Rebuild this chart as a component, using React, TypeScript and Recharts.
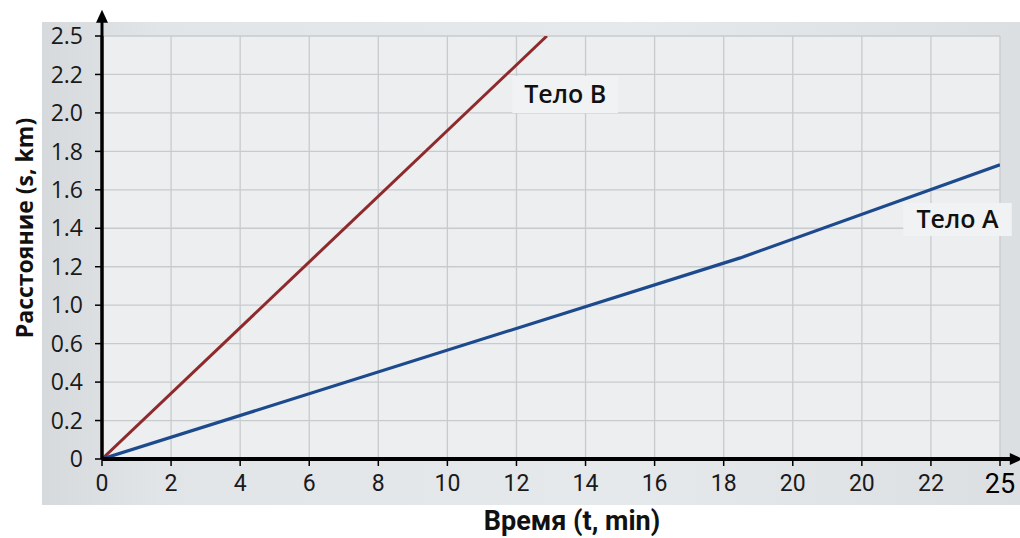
import { CartesianGrid, Line, LineChart, ReferenceArea, ReferenceDot, ReferenceLine, XAxis, YAxis } from "recharts";

// The printed axes are evenly spaced but their labels are not (0.8 is missing
// on the y axis, 20 shows up twice on the x axis), so everything is placed in
// grid steps and the labels are only looked up for display.
const X_LABELS = ["0", "2", "4", "6", "8", "10", "12", "14", "16", "18", "20", "20", "22", "25"];
const Y_LABELS = ["0", "0.2", "0.4", "0.6", "1.0", "1.2", "1.4", "1.6", "1.8", "2.0", "2.2", "2.5"];

// Тело A: slight bend past the "18" column, as in the picture
const BODY_A_STEP = [0, 9.24, 13];
const BODY_A_LEVEL = [0, 5.23, 7.65];
// Тело B: runs out through the top edge just past "12"
const BODY_B_STEP = [0, 6.44];
const BODY_B_LEVEL = [0, 11];

const bodyA = BODY_A_STEP.map((x, i) => ({ x, y: BODY_A_LEVEL[i] }));
const bodyB = BODY_B_STEP.map((x, i) => ({ x, y: BODY_B_LEVEL[i] }));

const X_TICKS = X_LABELS.map((_, i) => i);
const Y_TICKS = Y_LABELS.map((_, i) => i);

const X_MAX = X_LABELS.length - 1;
const Y_MAX = Y_LABELS.length - 1;

const TICK_FONT = { fill: "#1a1a1a", fontSize: 23, fontFamily: "Open Sans, sans-serif" };
const CONDENSED = "Roboto, sans-serif";
const TAG_STYLE = { fill: "#111", fontSize: 25, fontWeight: 600, fontFamily: "Open Sans, sans-serif" };

// the last x label ("25") is printed bigger and darker than the rest
function XTick(props: { x?: number; y?: number; payload?: { value: number } }) {
  const { x = 0, y = 0, payload } = props;
  const i = payload ? payload.value : 0;
  const last = i === X_MAX;
  return (
    <text
      x={x}
      y={y}
      dy={last ? 19 : 17}
      textAnchor="middle"
      fill={last ? "#000" : "#1a1a1a"}
      fontSize={last ? 27 : 23}
      fontFamily={CONDENSED}
    >
      {X_LABELS[i]}
    </text>
  );
}

function UpArrow(props: { cx?: number; cy?: number }) {
  const { cx = 0, cy = 0 } = props;
  return <path d={`M${cx},${cy} l-6,13 l12,0 z`} fill="#000" />;
}

function RightArrow(props: { cx?: number; cy?: number }) {
  const { cx = 0, cy = 0 } = props;
  return <path d={`M${cx},${cy} l-13,-6 l0,12 z`} fill="#000" />;
}

export default function App() {
  return (
    <div style={{ position: "absolute", left: 0, top: 0, width: 1020, height: 538, background: "#fff", overflow: "hidden" }}>
      <div
        style={{
          position: "absolute",
          left: 42,
          top: 22,
          width: 978,
          height: 483,
          background: "linear-gradient(to right, #d6dadd 0%, #e2e5e8 12%, #e6e9eb 60%, #dcdfe2 100%)",
        }}
      />
      <div style={{ position: "absolute", left: 0, top: 0 }}>
        <LineChart width={1020} height={538} margin={{ top: 36, right: 20, bottom: 0, left: 0 }}>
          <CartesianGrid stroke="#c8cbce" strokeWidth={1.3} fill="#eceef0" />
          <XAxis
            dataKey="x"
            type="number"
            domain={[0, X_MAX]}
            ticks={X_TICKS}
            interval={0}
            height={79}
            axisLine={{ stroke: "#000", strokeWidth: 4 }}
            tickLine={{ stroke: "#000", strokeWidth: 1.5 }}
            tickSize={7}
            tickMargin={8}
            tick={<XTick />}
            allowDataOverflow
          />
          <YAxis
            type="number"
            domain={[0, Y_MAX]}
            ticks={Y_TICKS}
            interval={0}
            tickFormatter={(i: number) => Y_LABELS[i]}
            width={102}
            axisLine={{ stroke: "#000", strokeWidth: 3 }}
            tickLine={{ stroke: "#000", strokeWidth: 1.5 }}
            tickSize={7}
            tickMargin={12}
            tick={TICK_FONT}
            allowDataOverflow
          />
          <ReferenceArea
            x1={5.94}
            x2={7.47}
            y1={9.0}
            y2={9.96}
            ifOverflow="visible"
            fill="#f0f2f3"
            fillOpacity={1}
            stroke="none"
            label={{ value: "Тело B", position: "center", style: TAG_STYLE }}
          />
          <ReferenceArea
            x1={11.6}
            x2={13.17}
            y1={5.8}
            y2={6.66}
            ifOverflow="visible"
            fill="#f0f2f3"
            fillOpacity={1}
            stroke="none"
            label={{ value: "Тело A", position: "center", style: TAG_STYLE }}
          />
          <Line data={bodyB} dataKey="y" stroke="#8e2a2c" strokeWidth={3} dot={false} isAnimationActive={false} />
          <Line data={bodyA} dataKey="y" stroke="#1d4a8c" strokeWidth={3.2} dot={false} isAnimationActive={false} />
          <ReferenceLine segment={[{ x: 0, y: 0 }, { x: 0, y: Y_MAX + 0.5 }]} ifOverflow="visible" stroke="#000" strokeWidth={3} />
          <ReferenceLine segment={[{ x: 0, y: 0 }, { x: X_MAX + 0.15, y: 0 }]} ifOverflow="visible" stroke="#000" strokeWidth={4} />
          <ReferenceDot x={0} y={Y_MAX + 0.68} ifOverflow="visible" shape={<UpArrow />} />
          <ReferenceDot x={X_MAX + 0.33} y={0} ifOverflow="visible" shape={<RightArrow />} />
        </LineChart>
      </div>
      <div
        style={{
          position: "absolute",
          left: 24,
          top: 228,
          transform: "translate(-50%, -50%) rotate(-90deg)",
          whiteSpace: "nowrap",
          fontFamily: "Open Sans, sans-serif",
          fontWeight: 700,
          fontSize: 23,
          color: "#111",
        }}
      >
        Расстояние (s, km)
      </div>
      <div
        style={{
          position: "absolute",
          left: 572,
          top: 521,
          transform: "translate(-50%, -50%)",
          whiteSpace: "nowrap",
          fontFamily: CONDENSED,
          fontWeight: 700,
          fontSize: 27,
          color: "#111",
        }}
      >
        Время (t, min)
      </div>
    </div>
  );
}
